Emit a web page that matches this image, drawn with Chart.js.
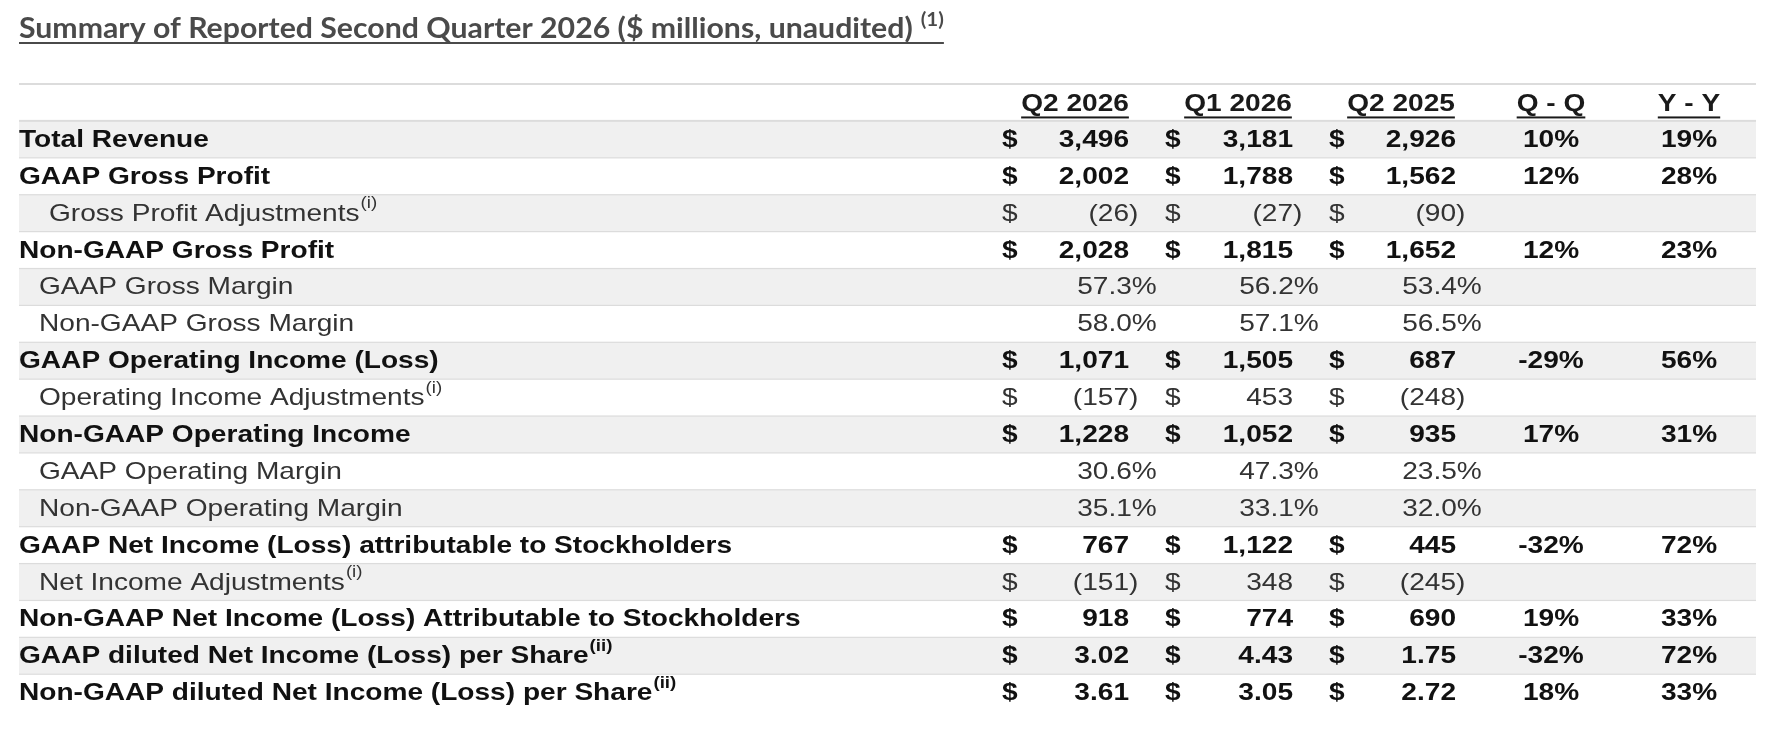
<!DOCTYPE html>
<html>
<head>
<meta charset="utf-8">
<script src="https://cdn.jsdelivr.net/npm/chart.js@4"></script>
<style>
  html, body { margin: 0; padding: 0; background: #fff; }
  #wrap { width: 1770px; height: 734px; position: relative; }
</style>
</head>
<body>
<div id="wrap"><canvas id="tbl" width="1770" height="734"></canvas></div>
<script>
const title = 'Summary of Reported Second Quarter 2026 ($ millions, unaudited)';
const headers = ['Q2 2026', 'Q1 2026', 'Q2 2025', 'Q - Q', 'Y - Y'];

const rowLabels = [
    'Total Revenue', 'GAAP Gross Profit', 'Gross Profit Adjustments', 'Non-GAAP Gross Profit',
    'GAAP Gross Margin', 'Non-GAAP Gross Margin', 'GAAP Operating Income (Loss)',
    'Operating Income Adjustments', 'Non-GAAP Operating Income', 'GAAP Operating Margin',
    'Non-GAAP Operating Margin', 'GAAP Net Income (Loss) attributable to Stockholders',
    'Net Income Adjustments', 'Non-GAAP Net Income (Loss) Attributable to Stockholders',
    'GAAP diluted Net Income (Loss) per Share', 'Non-GAAP diluted Net Income (Loss) per Share'
];
const rowNotes = ['', '', '(i)', '', '', '', '', '(i)', '', '', '', '', '(i)', '', '(ii)', '(ii)'];
// b = bold money row, a = adjustment row, p = margin percent row, e = per-share row
const rowKinds = ['b', 'b', 'a', 'b', 'p', 'p', 'b', 'a', 'b', 'p', 'p', 'b', 'a', 'b', 'e', 'e'];

const q2_2026 = [3496, 2002, -26, 2028, 57.3, 58.0, 1071, -157, 1228, 30.6, 35.1, 767, -151, 918, 3.02, 3.61];
const q1_2026 = [3181, 1788, -27, 1815, 56.2, 57.1, 1505, 453, 1052, 47.3, 33.1, 1122, 348, 774, 4.43, 3.05];
const q2_2025 = [2926, 1562, -90, 1652, 53.4, 56.5, 687, -248, 935, 23.5, 32.0, 445, -245, 690, 1.75, 2.72];
const qoq = [10, 12, null, 12, null, null, -29, null, 17, null, null, -32, null, 19, -32, 18];
const yoy = [19, 28, null, 23, null, null, 56, null, 31, null, null, 72, null, 33, 72, 33];

// column anchors in x-scale units (scale runs 0..1737)
const dollarX = [983, 1146, 1310];
const valueRight = [1110, 1274, 1437];
const pctCenter = [1098, 1260, 1423];
const headerCenter = [1056, 1219, 1382, 1532, 1670];
const SX = 1.17;

const fmt = (v, kind) => {
    if (kind === 'p') return v.toFixed(1) + '%';
    if (kind === 'e') return v.toFixed(2);
    return Math.abs(v).toLocaleString('en-US');
};

// draw horizontally stretched text, returns drawn width
const st = (ctx, text, px, py, align, sx = SX) => {
    ctx.save();
    ctx.translate(px, py);
    ctx.scale(sx, 1);
    ctx.textAlign = align;
    ctx.fillText(text, 0, 0);
    const w = ctx.measureText(text).width * sx;
    ctx.restore();
    return w;
};

const tablePlugin = {
    id: 'tablePlugin',
    afterDraw(chart) {
        const ctx = chart.ctx;
        const x = chart.scales.x, y = chart.scales.y;
        const left = x.getPixelForValue(0), right = x.getPixelForValue(1737);
        const rowH = y.getPixelForValue(1) - y.getPixelForValue(0);
        ctx.save();

        // title
        ctx.fillStyle = '#4a4a4a';
        ctx.font = 'bold 28px Lato';
        ctx.textBaseline = 'alphabetic';
        const tw = st(ctx, title, 19, 38, 'left', 1.08);
        ctx.font = 'bold 19px Lato';
        const tw2 = st(ctx, '(1)', 19 + tw + 8, 26, 'left', 1.08);
        ctx.fillRect(19, 42, tw + 8 + tw2, 2);

        // backgrounds and rules
        rowLabels.forEach((_, i) => {
            const cy = y.getPixelForValue(i + 1);
            if (i % 2 === 0) {
                ctx.fillStyle = '#f0f0f0';
                ctx.fillRect(left, cy - rowH / 2, right - left, rowH);
            }
        });
        ctx.fillStyle = '#dcdcdc';
        for (let i = 0; i <= rowLabels.length; i++) {
            const ly = y.getPixelForValue(i) - rowH / 2;
            ctx.fillRect(left, ly - (i < 2 ? 1 : 0.5), right - left, i < 2 ? 2 : 1.2);
        }

        // headers
        ctx.textBaseline = 'middle';
        ctx.fillStyle = '#1a1a1a';
        ctx.font = 'bold 24px "Liberation Sans"';
        const hy = y.getPixelForValue(0) + 2;
        headers.forEach((h, j) => {
            const cx = x.getPixelForValue(headerCenter[j]);
            const w = st(ctx, h, cx, hy, 'center');
            ctx.fillRect(cx - w / 2, hy + 12, w, 2);
        });

        // rows
        const cols = [q2_2026, q1_2026, q2_2025];
        rowLabels.forEach((label, i) => {
            const kind = rowKinds[i];
            const bold = kind === 'b' || kind === 'e';
            const cy = y.getPixelForValue(i + 1) + 1;
            const font = (bold ? 'bold ' : '') + '24px "Liberation Sans"';
            ctx.fillStyle = bold ? '#111' : '#333';
            ctx.font = font;
            const lx = kind === 'a' && i === 2 ? 49 : (bold ? 19 : 39);
            const w = st(ctx, label, lx, cy, 'left');
            if (rowNotes[i]) {
                ctx.font = (bold ? 'bold ' : '') + '16px "Liberation Sans"';
                st(ctx, rowNotes[i], lx + w + 1, cy - 10, 'left');
                ctx.font = font;
            }
            cols.forEach((col, j) => {
                const v = col[i];
                if (kind === 'p') {
                    st(ctx, fmt(v, kind), x.getPixelForValue(pctCenter[j]), cy, 'center');
                    return;
                }
                st(ctx, '$', x.getPixelForValue(dollarX[j]), cy, 'left');
                const vr = x.getPixelForValue(valueRight[j]);
                st(ctx, (v < 0 ? '(' : '') + fmt(v, kind), vr, cy, 'right');
                if (v < 0) st(ctx, ')', vr, cy, 'left');
            });
            if (qoq[i] !== null) st(ctx, qoq[i] + '%', x.getPixelForValue(headerCenter[3]), cy, 'center');
            if (yoy[i] !== null) st(ctx, yoy[i] + '%', x.getPixelForValue(headerCenter[4]), cy, 'center');
        });
        ctx.restore();
    }
};

new Chart(document.getElementById('tbl'), {
    type: 'bar',
    data: {
        labels: ['header', ...rowLabels],
        datasets: [{ data: new Array(rowLabels.length + 1).fill(0), backgroundColor: 'transparent' }]
    },
    options: {
        indexAxis: 'y',
        responsive: false,
        animation: false,
        layout: { padding: { top: 84, bottom: 23, left: 19, right: 14 } },
        plugins: { legend: { display: false }, tooltip: { enabled: false } },
        scales: {
            x: { type: 'linear', min: 0, max: 1737, display: false },
            y: { type: 'category', display: false, offset: true }
        }
    },
    plugins: [tablePlugin]
});
</script>
</body>
</html>
